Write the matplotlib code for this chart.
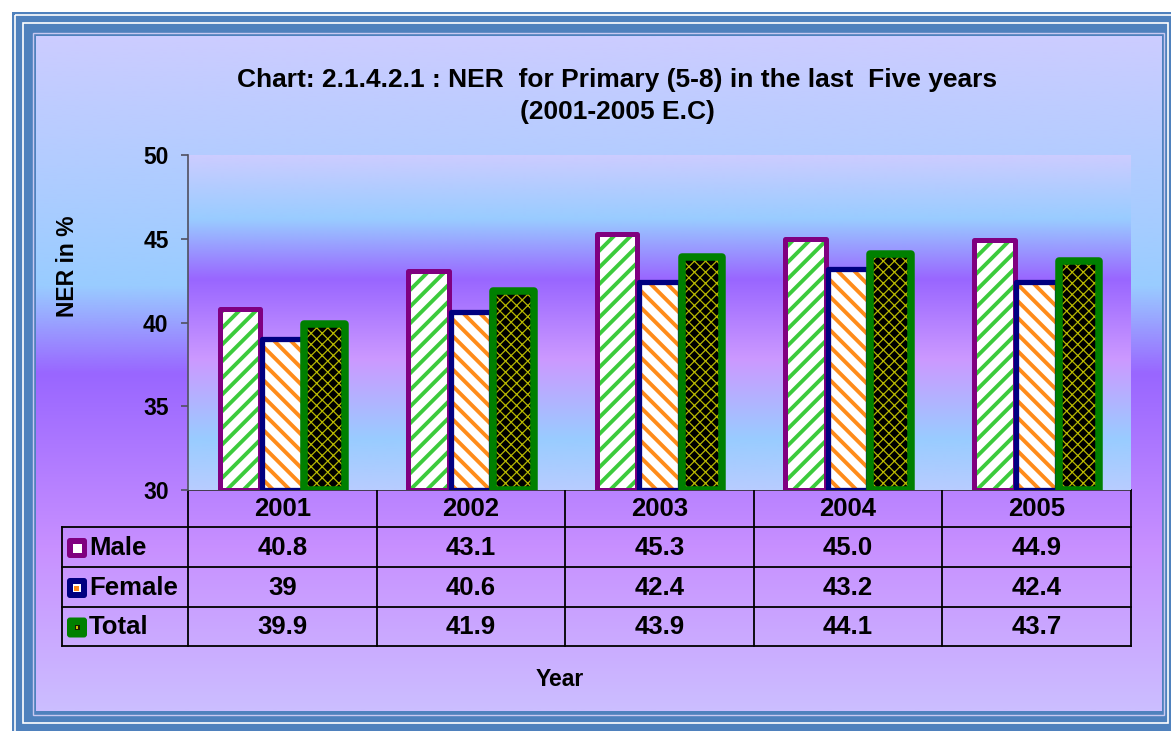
import numpy as np
import matplotlib
matplotlib.use("Agg")
import matplotlib.pyplot as plt
from matplotlib.colors import LinearSegmentedColormap
from matplotlib.patches import Rectangle, FancyBboxPatch

# ---------------- data ----------------
years = ["2001", "2002", "2003", "2004", "2005"]
series_names = ["Male", "Female", "Total"]
male = [40.8, 43.1, 45.3, 45.0, 44.9]
female = [39.0, 40.6, 42.4, 43.2, 42.4]
total = [39.9, 41.9, 43.9, 44.1, 43.7]
male_labels = ["40.8", "43.1", "45.3", "45.0", "44.9"]
female_labels = ["39", "40.6", "42.4", "43.2", "42.4"]
total_labels = ["39.9", "41.9", "43.9", "44.1", "43.7"]
y_ticks = [30, 35, 40, 45, 50]
title_text = "Chart: 2.1.4.2.1 : NER  for Primary (5-8) in the last  Five years\n(2001-2005 E.C)"
y_label = "NER in %"
x_label = "Year"

# ---------------- styles ----------------
W, H = 1171, 731
plt.rcParams['font.family'] = ['Liberation Sans', 'DejaVu Sans']
plt.rcParams['font.weight'] = 'bold'

fig = plt.figure(figsize=(W / 100, H / 100), dpi=100)
fig.patch.set_facecolor('white')

# canvas axes in pixel coordinates
cv = fig.add_axes([0, 0, 1, 1])
cv.set_xlim(0, W)
cv.set_ylim(H, 0)
cv.axis('off')
cv.set_zorder(-1)

blue = '#4F81BD'
cv.add_patch(Rectangle((12, 12), W, H, facecolor=blue, edgecolor='none', zorder=0))
cv.add_patch(Rectangle((14.5, 14.5), W, H, facecolor='none', edgecolor='white', lw=1.2, zorder=1))
cv.add_patch(Rectangle((23, 23), 1167.5 - 23, 723 - 23, facecolor='none', edgecolor='white', lw=1.2, zorder=1))
cv.add_patch(Rectangle((33, 33), 1164 - 33, 715 - 33, facecolor='none', edgecolor='#C8C8F0', lw=1.0, zorder=1))

outer_cmap = LinearSegmentedColormap.from_list(
    'outer', [(0.0, '#CCCCFF'), (0.37, '#99CCFF'), (0.50, '#9966FF'),
              (0.76, '#C890FF'), (1.0, '#CCBEFF')])
grad = np.linspace(0, 1, 512).reshape(-1, 1)
cv.imshow(grad, cmap=outer_cmap, aspect='auto', extent=(36, 1162, 711, 36),
          origin='upper', zorder=2, interpolation='bilinear')

# main axes
ax_l, ax_r, ax_t, ax_b = 188, 1131, 155, 490
ax = fig.add_axes([ax_l / W, 1 - ax_b / H, (ax_r - ax_l) / W, (ax_b - ax_t) / H])
ax.set_zorder(1)
ax.set_facecolor('none')
n = len(years)
ax.set_xlim(0, n)
ax.set_ylim(y_ticks[0], y_ticks[-1])

plot_cmap = LinearSegmentedColormap.from_list(
    'plot', [(0.0, '#CCCCFF'), (0.19, '#99CCFF'), (0.37, '#9966FF'),
             (0.61, '#CC99FF'), (0.85, '#99CCFF'), (1.0, '#B8CCFF')])
ax.imshow(grad, cmap=plot_cmap, aspect='auto', extent=(0, n, y_ticks[0], y_ticks[-1]),
          origin='upper', zorder=0, interpolation='bilinear')

x = np.arange(n) + 0.5
offset = 0.225
width = 0.215
specs = [
    (male, -offset, 'white', '#3CCB3C', '//', '#800080', 3.6, 2.8),
    (female, 0.0, 'white', '#FF8C1A', '\\\\', '#000080', 3.8, 2.8),
    (total, offset, 'black', '#B8B800', 'xxx', '#008000', 5.4, 0.9),
]
z = 2
for vals, off, face, hcol, hatch, ecol, lw, hlw in specs:
    heights = np.array(vals) - y_ticks[0]
    with plt.rc_context({'hatch.linewidth': hlw}):
        ax.bar(x + off, heights, width=width, bottom=y_ticks[0], color=face,
               edgecolor=hcol, hatch=hatch, linewidth=0, zorder=z)
    ax.bar(x + off, heights, width=width, bottom=y_ticks[0], fill=False,
           edgecolor=ecol, linewidth=lw, joinstyle='round', zorder=z + 1)
    z += 2

ax.set_xticks([])
ax.set_yticks(y_ticks)
ax.set_yticklabels([str(t) for t in y_ticks], fontsize=16.5, fontweight='bold')
ax.tick_params(axis='y', direction='out', length=5, width=1.2, color='#505060', pad=9)
for s in ['top', 'right', 'bottom']:
    ax.spines[s].set_visible(False)
ax.spines['left'].set_color('#505060')
ax.spines['left'].set_linewidth(1.2)

# ---------------- data table ----------------
col_w = (ax_r - ax_l) / n
bounds = [ax_l + i * col_w for i in range(n + 1)]
rows_y = [490, 527, 567, 607, 646]
tbl_left = 62
lc = 'black'
tz = 5
fs_tbl = 18.5
cv.plot([ax_l, ax_r], [rows_y[0], rows_y[0]], color='#303030', lw=1.2, zorder=tz)
for ry in rows_y[1:]:
    cv.plot([tbl_left, ax_r], [ry, ry], color=lc, lw=1.3, zorder=tz)
for bx in bounds:
    cv.plot([bx, bx], [rows_y[0], rows_y[-1]], color=lc, lw=1.3, zorder=tz)
cv.plot([tbl_left, tbl_left], [rows_y[1], rows_y[-1]], color=lc, lw=1.3, zorder=tz)

centers = [(bounds[i] + bounds[i + 1]) / 2 for i in range(n)]
for cx, yr in zip(centers, years):
    cv.text(cx, (rows_y[0] + rows_y[1]) / 2 + 1, yr, ha='center', va='center',
            fontsize=fs_tbl, fontweight='bold', zorder=tz + 1)

row_labels = [male_labels, female_labels, total_labels]
key_cols = [('#800080', 'white', None), ('#000080', 'white', '#FF8C1A'),
            ('#008000', '#1a1a00', '#C8C800')]
for r, (name, labs) in enumerate(zip(series_names, row_labels)):
    cy = (rows_y[r + 1] + rows_y[r + 2]) / 2 + 1
    for cx, lab in zip(centers, labs):
        cv.text(cx, cy, lab, ha='center', va='center', fontsize=fs_tbl,
                fontweight='bold', zorder=tz + 1)
    ec, inner, dot = key_cols[r]
    kx, ky, ks = 67, cy - 10, 20
    cv.add_patch(FancyBboxPatch((kx + 3, ky + 3), ks - 6, ks - 6,
                                boxstyle='round,pad=3', facecolor=ec,
                                edgecolor='none', zorder=tz + 1))
    if r == 0:
        cv.add_patch(Rectangle((kx + 5.5, ky + 5.5), 9, 9, facecolor='white',
                               edgecolor='none', zorder=tz + 2))
    elif r == 1:
        cv.add_patch(Rectangle((kx + 6, ky + 6), 8, 8, facecolor='white',
                               edgecolor='none', zorder=tz + 2))
        cv.add_patch(Rectangle((kx + 7, ky + 8), 4.5, 4.5, facecolor=dot,
                               edgecolor='none', zorder=tz + 3))
    else:
        cv.add_patch(Rectangle((kx + 7.5, ky + 7.5), 5, 5, facecolor=inner,
                               edgecolor='none', zorder=tz + 2))
        cv.add_patch(Rectangle((kx + 8.5, ky + 8.5), 2.5, 2.5, facecolor=dot,
                               edgecolor='none', zorder=tz + 3))
    cv.text(kx + ks + 2, cy, name, ha='left', va='center', fontsize=fs_tbl,
            fontweight='bold', zorder=tz + 1)

# ---------------- titles ----------------
cv.text(617, 96, title_text, ha='center', va='center', fontsize=19,
        fontweight='bold', linespacing=1.4, zorder=tz)
cv.text(67, 266, y_label, ha='center', va='center', rotation=90, fontsize=16.5,
        fontweight='bold', zorder=tz)
cv.text(560, 680, x_label, ha='center', va='center', fontsize=16.5,
        fontweight='bold', zorder=tz)

fig.savefig('out.png', dpi=100)
